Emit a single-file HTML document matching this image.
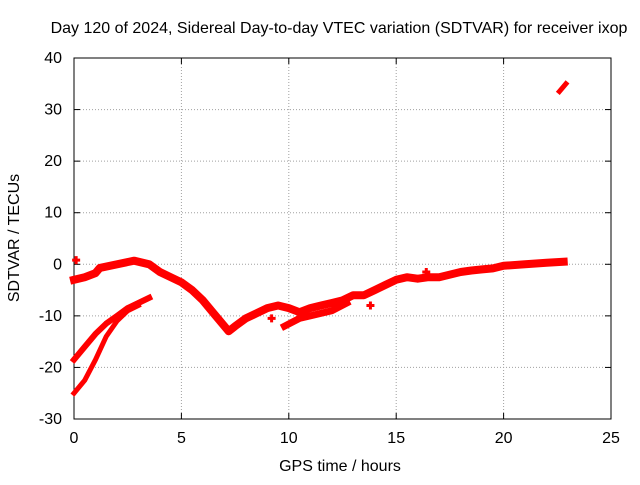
<!DOCTYPE html>
<html><head><meta charset="utf-8"><style>
body{margin:0;background:#fff}
svg text{font-family:"Liberation Sans",sans-serif;font-size:16px;fill:#000}
</style></head><body>
<svg width="640" height="480" xmlns="http://www.w3.org/2000/svg">
<rect width="640" height="480" fill="#fff"/>
<text x="339" y="33" text-anchor="middle">Day 120 of 2024, Sidereal Day-to-day VTEC variation (SDTVAR) for receiver ixop</text>
<g id="grid"></g>
<g id="axes"></g>
<g id="series"></g>
<text x="340" y="471" text-anchor="middle">GPS time / hours</text>
<text transform="translate(19,238) rotate(-90)" text-anchor="middle">SDTVAR / TECUs</text>
</svg>
<script>
const xTicks=[0,5,10,15,20,25];
const yTicks=[-30,-20,-10,0,10,20,30,40];
const mainX=[0,0.5,1,1.2,2,2.8,3.5,4,4.5,5,5.5,6,6.5,7,7.2,7.5,8,8.5,9,9.5,10,10.5,11,11.5,12,12.5,13,13.5,14,14.5,15,15.5,16,16.5,17,17.5,18,18.5,19,19.5,20,21,22,22.8];
const mainY=[-3,-2.5,-1.7,-0.7,0,0.7,0,-1.5,-2.5,-3.5,-5,-7,-9.5,-12,-13,-12,-10.5,-9.5,-8.5,-8,-8.5,-9.3,-8.5,-8,-7.5,-7,-6,-6,-5,-4,-3,-2.5,-2.8,-2.5,-2.5,-2,-1.5,-1.2,-1,-0.8,-0.3,0,0.3,0.5];
const lowBandX=[9.8,10.5,11,12,12.7];
const lowBandY=[-12,-10.5,-10,-9,-7.5];
const branchX=[0,0.5,1,1.5,2,2.5,3,3.5];
const branchY=[-18.5,-16,-13.5,-11.5,-10,-8.5,-7.5,-6.5];
const lowestX=[0,0.5,1,1.5,2,2.5,3];
const lowestY=[-25,-22.5,-18.5,-14,-11,-9,-8];
const outlierX=[22.6,22.9];
const outlierY=[33.5,35];
const dotX=[0.1,13.8,9.2,16.4];
const dotY=[0.8,-8,-10.5,-1.5];
const L=74,R=611,T=58,B=419;
const sx=v=>L+(v-0)/25*(R-L);
const sy=v=>B-(v+30)/70*(B-T);
const NS="http://www.w3.org/2000/svg";
function mk(tag,attrs,parent){const e=document.createElementNS(NS,tag);for(const k in attrs)e.setAttribute(k,attrs[k]);parent.appendChild(e);return e;}
const grid=document.getElementById('grid'),axes=document.getElementById('axes'),ser=document.getElementById('series');
xTicks.forEach(t=>{
 if(t>0&&t<25){const g=mk('line',{x1:sx(t),x2:sx(t),y1:T,y2:B,stroke:'#a0a0a0','stroke-dasharray':'1,2'},grid);
 
 }
 mk('line',{x1:sx(t),x2:sx(t),y1:B,y2:B-6,stroke:'#000'},axes);
 mk('line',{x1:sx(t),x2:sx(t),y1:T,y2:T+6,stroke:'#000'},axes);
 const tx=mk('text',{x:sx(t),y:B+24,'text-anchor':'middle'},axes);tx.textContent=t;
 
 
});
yTicks.forEach(t=>{
 if(t>-30&&t<40){const g=mk('line',{x1:L,x2:R,y1:sy(t),y2:sy(t),stroke:'#a0a0a0','stroke-dasharray':'1,2'},grid);
 
 }
 mk('line',{x1:L,x2:L+6,y1:sy(t),y2:sy(t),stroke:'#000'},axes);
 mk('line',{x1:R,x2:R-6,y1:sy(t),y2:sy(t),stroke:'#000'},axes);
 const tx=mk('text',{x:L-12,y:sy(t)+5,'text-anchor':'end'},axes);tx.textContent=t;
 
 
});
mk('rect',{x:L,y:T,width:R-L,height:B-T,fill:'none',stroke:'#000'},axes);
function track(xs,ys,w,name){
 const d=xs.map((x,i)=>(i?'L':'M')+sx(x).toFixed(1)+','+sy(ys[i]).toFixed(1)).join('');
 const p=mk('path',{d:d,fill:'none',stroke:'#ff0000','stroke-width':w,'stroke-linejoin':'round','stroke-linecap':'square'},ser);
 
 
}
track(mainX,mainY,8,'main-track');
track(lowBandX,lowBandY,7,'low-band-track');
track(branchX,branchY,6,'branch-track');
track(lowestX,lowestY,5,'lowest-track');
track(outlierX,outlierY,5,'outlier-track');
dotX.forEach((x,i)=>{
 const p=mk('path',{d:`M${sx(x)-4},${sy(dotY[i])}h8M${sx(x)},${sy(dotY[i])-4}v8`,stroke:'#ff0000','stroke-width':3},ser);
 
 
});
</script>
</body></html>
